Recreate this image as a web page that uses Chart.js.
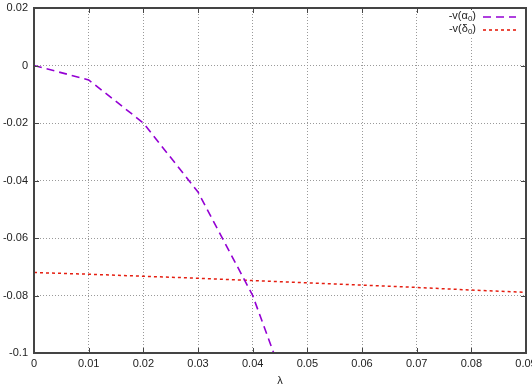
<!DOCTYPE html>
<html>
<head>
<meta charset="utf-8">
<script src="https://cdn.jsdelivr.net/npm/chart.js@4/dist/chart.umd.min.js"></script>
<style>
  html, body { margin: 0; padding: 0; background: #fff; overflow: hidden; }
  #wrap { width: 545px; height: 388px; }
</style>
</head>
<body>
<div id="wrap"><canvas id="plot" width="545" height="388"></canvas></div>
<script>
// lambda values on the x axis
const lambdas = [0, 0.01, 0.02, 0.03, 0.04, 0.05, 0.06, 0.07, 0.08, 0.09];

// -v(alpha_0), goes off the bottom after 0.04
const alphaVals = [0, -0.005, -0.020, -0.044, -0.080, -0.132];
// -v(delta_0), nearly flat
const deltaVals = [-0.0720, -0.0726, -0.0733, -0.0740, -0.0748, -0.0756, -0.0764, -0.0772, -0.0781, -0.0789];

const xTicks = [0, 0.01, 0.02, 0.03, 0.04, 0.05, 0.06, 0.07, 0.08, 0.09];
const yTicks = [0.02, 0, -0.02, -0.04, -0.06, -0.08, -0.1];

const legendRows = [
    { main: '-v(α', sub: '0', color: '#9400d3', dash: [8, 5] },
    { main: '-v(δ', sub: '0', color: '#e51e10', dash: [3, 3] },
];

const FAMILY = '"Liberation Sans", Arial, sans-serif';
const FONT = '11px ' + FAMILY;
const SUBFONT = '8px ' + FAMILY;
const fmt = v => String(Number(v.toFixed(3)));

const toPoints = (vals) => vals.map((y, i) => ({ x: lambdas[i], y: y }));

// frame + inward ticks like gnuplot (filled rects), then the key
const framePlugin = {
    id: 'gpframe',
    afterDraw(chart) {
        const ctx = chart.ctx;
        const a = chart.chartArea;
        const xs = chart.scales.x, ys = chart.scales.y;
        const L = Math.round(a.left), R = Math.round(a.right);
        const T = Math.round(a.top), B = Math.round(a.bottom);
        ctx.save();
        ctx.fillStyle = '#444';
        ctx.fillRect(L - 1, T - 1, R - L + 2, 2);
        ctx.fillRect(L - 1, B - 1, R - L + 2, 2);
        ctx.fillRect(L - 1, T - 1, 2, B - T + 2);
        ctx.fillRect(R - 1, T - 1, 2, B - T + 2);
        xTicks.forEach(t => {
            const px = Math.round(xs.getPixelForValue(t));
            ctx.fillRect(px, B - 5, 1, 5);
            ctx.fillRect(px, T, 1, 5);
        });
        yTicks.forEach(t => {
            const py = Math.round(ys.getPixelForValue(t));
            ctx.fillRect(L, py, 5, 1);
            ctx.fillRect(R - 5, py, 5, 1);
        });

        // key, top right
        ctx.textBaseline = 'middle';
        ctx.textAlign = 'left';
        const textRight = 476;
        legendRows.forEach((row, i) => {
            const y = 16 + i * 13;
            ctx.font = FONT;
            const wMain = ctx.measureText(row.main).width;
            const wClose = ctx.measureText(')').width;
            ctx.font = SUBFONT;
            const wSub = ctx.measureText(row.sub).width;
            let x = textRight - (wMain + wSub + wClose);
            ctx.fillStyle = '#fff';
            ctx.fillRect(x - 1, y - 6, wMain + wSub + wClose + 2, 13);
            ctx.fillStyle = '#222';
            ctx.font = FONT;
            ctx.fillText(row.main, x, y);
            x += wMain;
            ctx.font = SUBFONT;
            ctx.fillText(row.sub, x, y + 3);
            x += wSub;
            ctx.font = FONT;
            ctx.fillText(')', x, y);
            ctx.strokeStyle = row.color;
            ctx.lineWidth = 1.6;
            ctx.setLineDash(row.dash);
            ctx.beginPath();
            ctx.moveTo(483, y + 1);
            ctx.lineTo(516, y + 1);
            ctx.stroke();
        });
        ctx.restore();
    }
};

const data = {
    datasets: [{
        label: '-v(α0)',
        data: toPoints(alphaVals),
        borderColor: '#9400d3',
        borderWidth: 1.6,
        borderDash: [8, 5],
        pointRadius: 0,
        tension: 0,
    }, {
        label: '-v(δ0)',
        data: toPoints(deltaVals),
        borderColor: '#e51e10',
        borderWidth: 1.5,
        borderDash: [3, 3],
        pointRadius: 0,
        tension: 0,
    }]
};

const config = {
    type: 'line',
    data: data,
    options: {
        responsive: false,
        animation: false,
        devicePixelRatio: 1,
        layout: { padding: { left: 0, top: 8, right: 19, bottom: 0 } },
        plugins: {
            legend: { display: false },
            tooltip: { enabled: false },
        },
        scales: {
            x: {
                type: 'linear',
                min: 0,
                max: 0.09,
                afterFit: s => { s.height = 35; s.paddingLeft = 0; s.paddingRight = 0; },
                afterBuildTicks: s => { s.ticks = xTicks.map(v => ({ value: v })); },
                ticks: {
                    callback: v => fmt(v),
                    font: { family: FAMILY, size: 11 },
                    color: '#222',
                    padding: 4,
                    maxRotation: 0,
                    autoSkip: false,
                },
                grid: { color: '#9a9a9a', lineWidth: 1, drawTicks: false },
                border: { display: false, dash: [1, 2] },
                title: {
                    display: true,
                    text: 'λ',
                    font: { family: FAMILY, size: 11 },
                    color: '#222',
                    padding: { top: 0, bottom: 0 },
                },
            },
            y: {
                min: -0.1,
                max: 0.02,
                afterFit: s => { s.width = 34; s.paddingTop = 0; s.paddingBottom = 0; },
                afterBuildTicks: s => { s.ticks = yTicks.map(v => ({ value: v })); },
                ticks: {
                    callback: v => fmt(v),
                    font: { family: FAMILY, size: 11 },
                    color: '#222',
                    padding: 6,
                    autoSkip: false,
                },
                grid: { color: '#9a9a9a', lineWidth: 1, drawTicks: false },
                border: { display: false, dash: [1, 2] },
            }
        }
    },
    plugins: [framePlugin]
};

const chartLambda = new Chart(document.getElementById('plot'), config);
</script>
</body>
</html>
